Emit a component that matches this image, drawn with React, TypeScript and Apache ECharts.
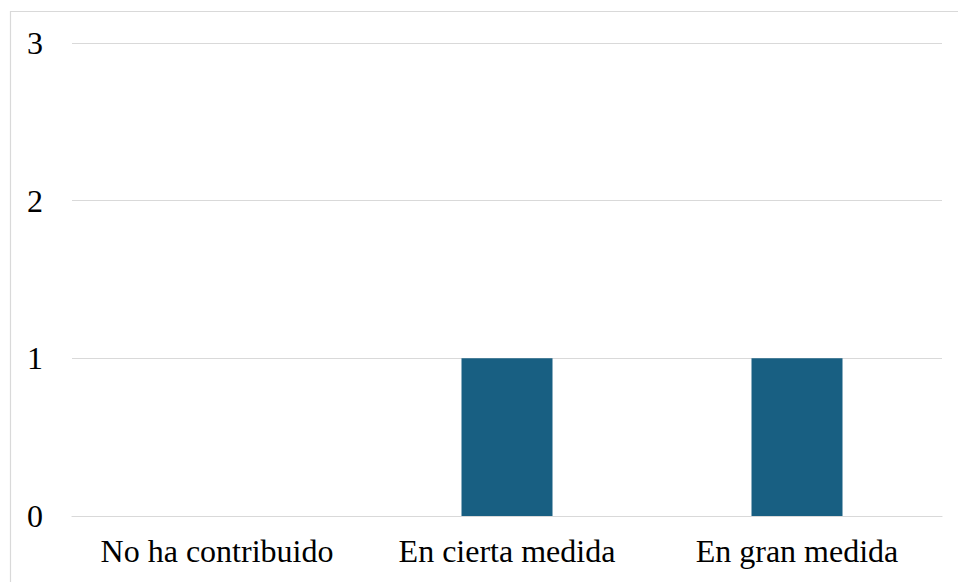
import React, { useEffect, useRef } from "react";
import * as echarts from "echarts";

const categories = ["No ha contribuido", "En cierta medida", "En gran medida"];
const values = [0, 1, 1];
const yTicks = [0, 1, 2, 3];

export default function App() {
  const ref = useRef<HTMLDivElement>(null);
  useEffect(() => {
    if (!ref.current) return;
    const chart = echarts.init(ref.current, null, { renderer: "svg" });
    const font = "'Liberation Serif', 'Times New Roman', serif";
    chart.setOption({
      animation: false,
      backgroundColor: "#ffffff",
      textStyle: { fontFamily: font },
      graphic: [
        {
          type: "rect",
          shape: { x: 10.5, y: 11.5, width: 1000, height: 1000 },
          style: { fill: "none", stroke: "#d9d9d9", lineWidth: 1.2 },
          silent: true,
        },
      ],
      grid: { left: 72, right: 16, top: 43, bottom: 66 },
      xAxis: {
        type: "category",
        data: categories,
        axisLine: { show: true, lineStyle: { color: "#d9d9d9", width: 1.2 } },
        axisTick: { show: false },
        axisLabel: {
          color: "#000000",
          fontSize: 32,
          fontFamily: font,
          margin: 19,
          interval: 0,
        },
      },
      yAxis: {
        type: "value",
        min: yTicks[0],
        max: yTicks[yTicks.length - 1],
        interval: 1,
        axisLine: { show: false },
        axisTick: { show: false },
        axisLabel: { color: "#000000", fontSize: 32, fontFamily: font, margin: 29 },
        splitLine: { lineStyle: { color: "#d9d9d9", width: 1.2 } },
      },
      series: [
        {
          type: "bar",
          data: values,
          barWidth: 91,
          itemStyle: { color: "#185f82" },
        },
      ],
    });
    return () => chart.dispose();
  }, []);
  return (
    <div
      ref={ref}
      style={{ position: "absolute", left: 0, top: 0, width: 958, height: 582 }}
    />
  );
}
